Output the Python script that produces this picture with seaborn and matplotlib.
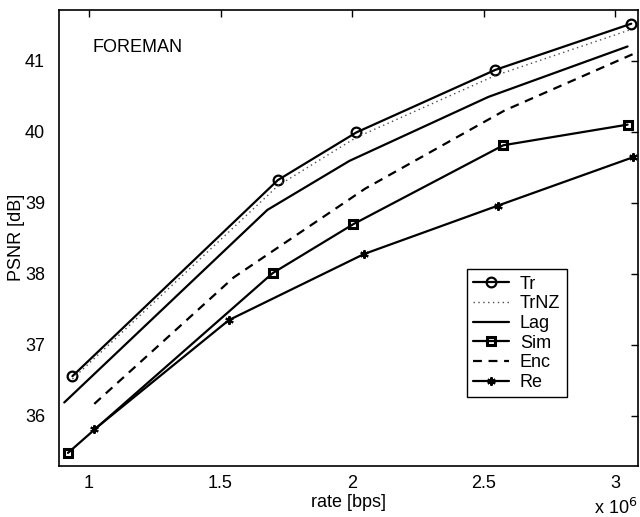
import matplotlib
matplotlib.use('Agg')

import matplotlib.pyplot as plt
import seaborn as sns
import numpy as np

# Data (rate in units of 1e6 bps, PSNR in dB)
tr_rate = [0.937, 1.718, 2.016, 2.544, 3.061]
tr_psnr = [36.56, 39.32, 39.99, 40.87, 41.52]

trnz_rate = [0.937, 1.718, 2.016, 2.544, 3.061]
trnz_psnr = [36.52, 39.24, 39.92, 40.79, 41.44]

lag_rate = [0.906, 1.678, 1.990, 2.518, 3.047]
lag_psnr = [36.19, 38.90, 39.59, 40.49, 41.20]

sim_rate = [0.920, 1.698, 2.005, 2.575, 3.047]
sim_psnr = [35.48, 38.01, 38.70, 39.81, 40.10]

enc_rate = [1.020, 1.550, 2.050, 2.580, 3.066]
enc_psnr = [36.17, 37.95, 39.20, 40.30, 41.09]

re_rate = [1.020, 1.532, 2.046, 2.554, 3.067]
re_psnr = [35.81, 37.35, 38.28, 38.96, 39.64]

labels = ["Tr", "TrNZ", "Lag", "Sim", "Enc", "Re"]
xticks = [1, 1.5, 2, 2.5, 3]
yticks = [36, 37, 38, 39, 40, 41]

sns.set_style("white")
plt.rcParams['font.family'] = ['Liberation Sans', 'DejaVu Sans']
plt.rcParams.update({'text.color': 'k', 'axes.labelcolor': 'k',
                     'xtick.color': 'k', 'ytick.color': 'k'})

fig = plt.figure(figsize=(6.4, 5.17), dpi=100)
ax = fig.add_axes([0.0922, 0.0992, 0.9048, 0.8824])

asterisk = (6, 2, 0)
series = [
    (tr_rate, tr_psnr, dict(linestyle='-', marker='o', markersize=7, mfc='none', mew=1.6)),
    (trnz_rate, trnz_psnr, dict(linestyle=(0, (1, 2.5)), lw=1.0, color='0.3')),
    (lag_rate, lag_psnr, dict(linestyle='-')),
    (sim_rate, sim_psnr, dict(linestyle='-', marker='s', markersize=6, mfc='none', mew=2.2)),
    (enc_rate, enc_psnr, dict(linestyle=(0, (4, 3)))),
    (re_rate, re_psnr, dict(linestyle='-', marker=asterisk, markersize=6, mew=1.5)),
]
for (x, y, kw), name in zip(series, labels):
    opts = dict(color='k', lw=1.6)
    opts.update(kw)
    opts['mec'] = opts['color']
    sns.lineplot(x=x, y=y, ax=ax, label=name, sort=False, **opts)

ax.set_xlim(0.886, 3.087)
ax.set_ylim(35.3, 41.72)
ax.set_xticks(xticks)
ax.set_xticklabels(["1", "1.5", "2", "2.5", "3"])
ax.set_yticks(yticks)
ax.tick_params(direction='in', length=5, width=1, top=True, right=True,
               labelsize=13, color='k')
ax.tick_params(axis='y', pad=10)
ax.tick_params(axis='x', pad=7)
for s in ax.spines.values():
    s.set_color('k')
    s.set_linewidth(1.2)

ax.set_xlabel("rate [bps]", fontsize=13, labelpad=1)
ax.set_ylabel("PSNR [dB]", fontsize=13, labelpad=0)
ax.text(1.013, 41.19, "FOREMAN", fontsize=13, va='center', ha='left')
fig.text(0.928, 0.006, r"x 10$^{6}$", fontsize=13, ha='left', va='baseline')

leg = ax.legend(loc='upper left', bbox_to_anchor=(0.704, 0.4305), borderaxespad=0,
                fancybox=False, edgecolor='k', framealpha=1, fontsize=13,
                handlelength=2.0, labelspacing=0.15, borderpad=0.35, handletextpad=0.6)
leg.get_frame().set_linewidth(1.0)

fig.savefig("out.png", dpi=100)
